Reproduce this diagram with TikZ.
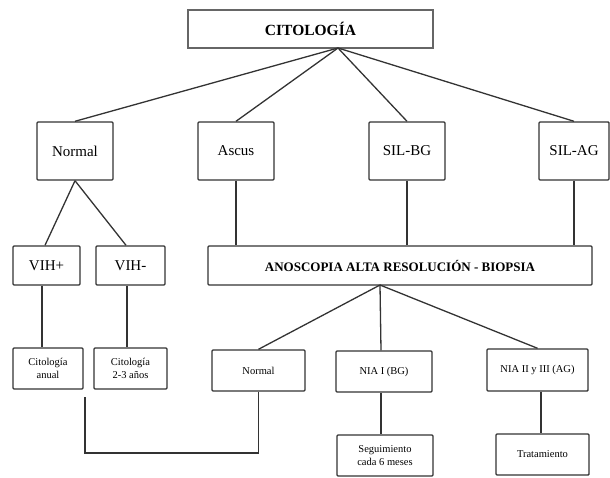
\documentclass[tikz,border=0pt]{standalone}
\usepackage{fontspec}
\setmainfont{Liberation Serif}
\tikzset{
  box/.style={draw=black!80, line width=1.4pt, rounded corners=1pt, fill=white, inner sep=1pt, align=center},
  bigtxt/.style={font=\fontsize{15}{17}\selectfont},
  smalltxt/.style={font=\fontsize{10.5}{12.5}\selectfont},
  conn/.style={draw=black!80, line width=1.3pt}
}
\begin{document}
\begin{tikzpicture}[x=1pt,y=-1pt]
\useasboundingbox (0,0) rectangle (610,478);
% top
\node[box, draw=black!60, line width=1.2pt, rounded corners=0pt, minimum width=245pt, minimum height=38pt, font=\fontsize{15.5}{17}\selectfont\bfseries] (cito) at (310.5,29) {CITOLOGÍA};
% level 2
\node[box, bigtxt, minimum width=76pt, minimum height=58pt] (normal) at (75,151) {Normal};
\node[box, bigtxt, minimum width=76pt, minimum height=58pt] (ascus) at (236,151) {Ascus};
\node[box, bigtxt, minimum width=76pt, minimum height=58pt] (silbg) at (407,151) {SIL-BG};
\node[box, bigtxt, minimum width=70pt, minimum height=58pt] (silag) at (574,151) {SIL-AG};
% level 3
\node[box, bigtxt, minimum width=67pt, minimum height=39pt] (vihp) at (46.5,265.5) {VIH+};
\node[box, bigtxt, minimum width=69pt, minimum height=39pt] (vihm) at (130.5,265.5) {VIH-};
\node[box, minimum width=384pt, minimum height=39pt, font=\fontsize{13}{15}\selectfont\bfseries] (anos) at (400,265.5) {ANOSCOPIA ALTA RESOLUCIÓN - BIOPSIA};
% level 4
\node[box, smalltxt, minimum width=70pt, minimum height=41pt] (citan) at (48,368.5) {Citología\\anual};
\node[box, smalltxt, minimum width=73pt, minimum height=41pt] (cit23) at (130.5,368.5) {Citología\\2-3 años};
\node[box, smalltxt, minimum width=93pt, minimum height=41pt] (norm2) at (258.5,370.5) {Normal};
\node[box, smalltxt, minimum width=96pt, minimum height=41pt] (nia1) at (384,371.5) {NIA I (BG)};
\node[box, smalltxt, minimum width=101pt, minimum height=42pt] (nia2) at (537.5,370) {NIA II y III (AG)};
% level 5
\node[box, smalltxt, minimum width=96pt, minimum height=41pt] (seg) at (385,455.5) {Seguimiento\\cada 6 meses};
\node[box, smalltxt, minimum width=93pt, minimum height=41pt] (trat) at (542.5,454.5) {Tratamiento};
% connectors
\coordinate (capex) at (338,48);
\draw[conn] (capex) -- (normal.north);
\draw[conn] (capex) -- (ascus.north);
\draw[conn] (capex) -- (silbg.north);
\draw[conn] (capex) -- (silag.north);
\draw[conn] (normal.south) -- ([xshift=-1.5pt]vihp.north);
\draw[conn] (normal.south) -- ([xshift=-4.5pt]vihm.north);
\draw[conn] ([xshift=-4.5pt]vihp.south) -- ([xshift=-6pt]citan.north);
\draw[conn] ([xshift=-3.5pt]vihm.south) -- ([xshift=-3.5pt]cit23.north);
\draw[conn] (ascus.south) -- (ascus.south |- anos.north);
\draw[conn] (silbg.south) -- (silbg.south |- anos.north);
\draw[conn] (silag.south) -- (silag.south |- anos.north);
\coordinate (aapex) at (380,285);
\draw[conn] (aapex) -- (norm2.north);
\draw[conn] (aapex) -- ([xshift=-3pt]nia1.north);
\draw[conn] (aapex) -- (nia2.north);
\draw[conn] ([xshift=-3pt]nia1.south) -- ([xshift=-4pt]seg.north);
\draw[conn] ([xshift=3.5pt]nia2.south) -- ([xshift=-1.5pt]trat.north);
\coordinate (lend) at (85,397);
\draw[conn] (norm2.south) -- (norm2.south |- 0,453) -| (lend);
\end{tikzpicture}
\end{document}
